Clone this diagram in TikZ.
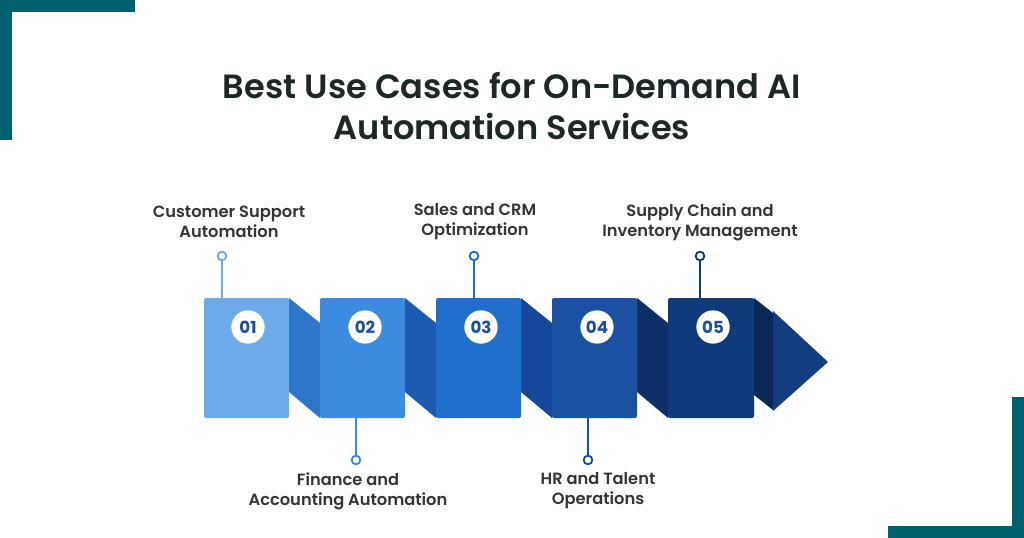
\documentclass[tikz,border=0pt]{standalone}
\usepackage{fontspec}
\setmainfont{Poppins}
\newfontfamily\titlefont{Poppins SemiBold}
\newfontfamily\labelfont{Poppins SemiBold}
\newfontfamily\numfont{Poppins Bold}
\definecolor{teal}{HTML}{00606F}
\definecolor{titlec}{HTML}{1E2728}
\definecolor{labelc}{HTML}{343434}
\definecolor{numc}{HTML}{1B4F9C}
\definecolor{pa}{HTML}{6DAAE9}
\definecolor{fa}{HTML}{2F76C8}
\definecolor{pb}{HTML}{3C8BE0}
\definecolor{fb}{HTML}{1C5BB0}
\definecolor{pc}{HTML}{1F6FCB}
\definecolor{fc}{HTML}{15479A}
\definecolor{pd}{HTML}{1A51A0}
\definecolor{fd}{HTML}{0E306A}
\definecolor{pe}{HTML}{0F3B7C}
\definecolor{fe}{HTML}{0A2756}
\definecolor{ar}{HTML}{123D80}
\begin{document}
\begin{tikzpicture}[x=0.75pt,y=-0.75pt,
  panelbox/.style={fill=#1, rounded corners=1.5pt},
  numdot/.style={circle, fill=white, minimum size=25pt, inner sep=0pt,
     font=\numfont\fontsize{12.5}{13}\selectfont, text=numc},
  marker/.style={circle, draw=#1, fill=white, line width=1.4pt, minimum size=6.5pt, inner sep=0pt},
  link/.style={draw=#1, line width=1.4pt},
  lbl/.style={align=center, font=\labelfont\fontsize{12.2}{15}\selectfont, text=labelc},
  ttl/.style={font=\titlefont\fontsize{25.2}{30}\selectfont, text=titlec, anchor=base}
]
\useasboundingbox (0,0) rectangle (1024,538);
\fill[white] (0,0) rectangle (1024,538);
% corner brackets
\fill[teal] (0,0) rectangle (135,12);
\fill[teal] (0,0) rectangle (12,140);
\fill[teal] (1012,397) rectangle (1024,538);
\fill[teal] (888,526) rectangle (1024,538);
% title
\node[ttl] (t1) at (512,99) {Best Use Cases for On-Demand AI};
\node[ttl] (t2) at (512,140) {Automation Services};
% folds
\fill[fa] (289,298) -- (320,323) -- (320,418) -- (289,392) -- cycle;
\fill[fb] (405,298) -- (436,323) -- (436,418) -- (405,392) -- cycle;
\fill[fc] (521,298) -- (552,323) -- (552,418) -- (521,392) -- cycle;
\fill[fd] (637,298) -- (668,323) -- (668,418) -- (637,392) -- cycle;
\fill[fe] (754,298) -- (773,313) -- (773,410) -- (754,395) -- cycle;
% arrow head
\fill[ar] (773,311) -- (828,362) -- (773,411) -- cycle;
% panels
\fill[panelbox=pa] (204,298) rectangle (289,418);
\fill[panelbox=pb] (320,298) rectangle (405,418);
\fill[panelbox=pc] (436,298) rectangle (521,418);
\fill[panelbox=pd] (552,298) rectangle (637,418);
\fill[panelbox=pe] (668,298) rectangle (754,418);
% number badges
\node[numdot] (n1) at (248,327) {01};
\node[numdot] (n2) at (365,327) {02};
\node[numdot] (n3) at (481,327) {03};
\node[numdot] (n4) at (597,327) {04};
\node[numdot] (n5) at (713,327) {05};
% connector anchors on panels
\coordinate (c1) at (222,298);
\coordinate (c2) at (356,418);
\coordinate (c3) at (474,298);
\coordinate (c4) at (588,418);
\coordinate (c5) at (700,298);
% markers
\node[marker=pa] (m1) at (222,256) {};
\node[marker=pb] (m2) at (356,460) {};
\node[marker=pc] (m3) at (474,256) {};
\node[marker=pd] (m4) at (588,460) {};
\node[marker=pe] (m5) at (700,256) {};
\draw[link=pa] (m1) -- (c1);
\draw[link=pb] (m2) -- (c2);
\draw[link=pc] (m3) -- (c3);
\draw[link=pd] (m4) -- (c4);
\draw[link=pe] (m5) -- (c5);
% labels
\node[lbl] (l1) at (229,222) {Customer Support\\Automation};
\node[lbl] (l3) at (475,222) {Sales and CRM\\Optimization};
\node[lbl] (l5) at (700,222) {Supply Chain and\\Inventory Management};
\node[lbl] (l2) at (348,491) {Finance and\\Accounting Automation};
\node[lbl] (l4) at (598,491) {HR and Talent\\Operations};
\end{tikzpicture}
\end{document}
